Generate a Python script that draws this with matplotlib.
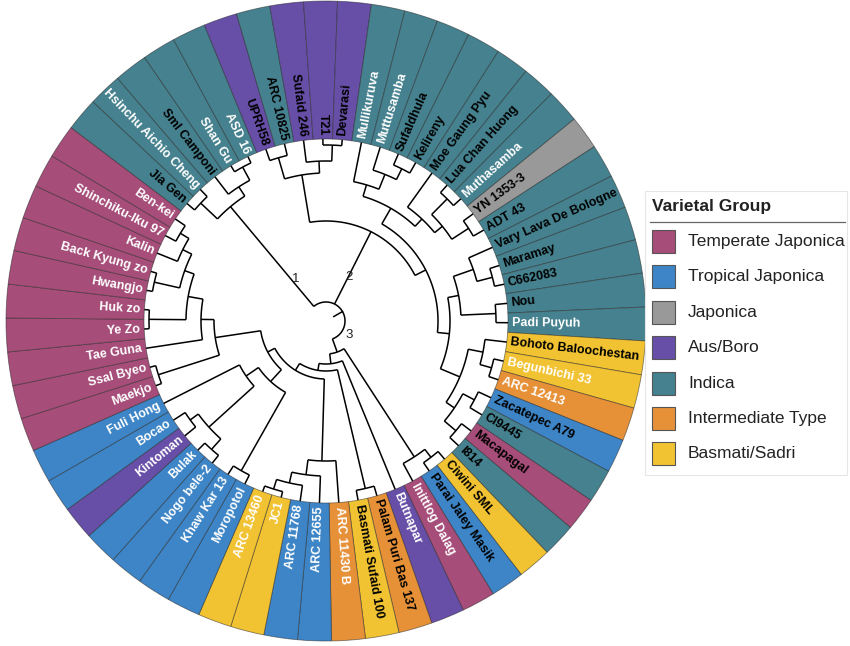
import numpy as np
import matplotlib.pyplot as plt
from matplotlib.patches import Wedge, Rectangle

# varieties, clockwise starting at Jia Gen
leaves = ['Jia Gen', 'Hsinchu Aichio Cheng', 'Sml Camponi', 'Shan Gu', 'ASD 16',
          'UPRH58', 'ARC 10825', 'Sufaid 246', 'T21', 'Devarasi',
          'Mullikuruva', 'Muttusamba', 'Sufaldhula', 'Kelireny', 'Moe Gaung Pyu',
          'Lua Chan Huong', 'Muthasamba', 'YN 1353-3', 'ADT 43', 'Vary Lava De Bologne',
          'Maramay', 'C662083', 'Nou', 'Padi Puyuh', 'Bohoto Baloochestan',
          'Begunbichi 33', 'ARC 12413', 'Zacatepec A79', 'CI9445', 'Macapagal',
          'I814', 'Ciwini SML', 'Parai Jaley Masik', 'Inittlog Dalag', 'Butnapar',
          'Palam Puri Bas 137', 'Basmati Sufaid 100', 'ARC 11430 B', 'ARC 12655', 'ARC 11768',
          'JC1', 'ARC 13460', 'Moropotol', 'Khaw Kar 13', 'Nogo bele-2',
          'Bulak', 'Kintoman', 'Bocao', 'Fuli Hong', 'Maekjo',
          'Ssal Byeo', 'Tae Guna', 'Ye Zo', 'Huk zo', 'Hwangjo',
          'Back Kyung zo', 'Kalin', 'Shinchiku-Iku 97', 'Ben-kei']

# 0 Temperate Japonica, 1 Tropical Japonica, 2 Japonica, 3 Aus/Boro,
# 4 Indica, 5 Intermediate Type, 6 Basmati/Sadri
leaf_group = [4, 4, 4, 4, 4,
              3, 4, 3, 3, 3,
              4, 4, 4, 4, 4,
              4, 4, 2, 4, 4,
              4, 4, 4, 4, 6,
              6, 5, 1, 4, 0,
              4, 6, 1, 0, 3,
              5, 6, 5, 1, 1,
              6, 6, 1, 1, 1,
              1, 3, 1, 1, 0,
              0, 0, 0, 0, 0,
              0, 0, 0, 0]

label_color = ['k', 'w', 'k', 'w', 'w',
               'k', 'k', 'k', 'k', 'k',
               'w', 'w', 'k', 'k', 'k',
               'k', 'w', 'k', 'k', 'k',
               'k', 'k', 'k', 'w', 'k',
               'w', 'w', 'k', 'k', 'k',
               'k', 'k', 'k', 'w', 'w',
               'k', 'k', 'w', 'w', 'w',
               'w', 'w', 'w', 'w', 'w',
               'w', 'w', 'w', 'w', 'w',
               'w', 'w', 'w', 'w', 'w',
               'w', 'w', 'w', 'w']

group_names = ['Temperate Japonica', 'Tropical Japonica', 'Japonica', 'Aus/Boro',
               'Indica', 'Intermediate Type', 'Basmati/Sadri']
group_colors = ['#a64d79', '#3d85c6', '#999999', '#674ea7',
                '#45818e', '#e69138', '#f1c232']

# tree: [node radius, child, child, ...]; ints are leaf positions
clade1 = [149, [172, 0, 1], [160, 2, [175, 3, 4]]]
aus = [148, [170, 5, 6], [160, 7, [176, 8, 9]]]
indica_top = [130, [142, 10, [158, 11, [170, 12, 13]]],
              [140, 14, [150, [172, 15, 16], [170, 17, 18]]]]
indica_low = [124, [135, [156, 19, [172, 20, 21]], [170, 22, 23]],
              [145, [160, 24, [172, 25, 26]], [155, [168, 27, 28], [170, 29, 30]]]]
clade2 = [100, aus, [112, indica_top, indica_low]]
arc_grp = [140, 37, [155, 38, [166, 39, [176, 40, 41]]]]
trop = [82, [172, 42, 43], [97, [158, [172, 44, 45], [168, 46, 47]], 48]]
temp = [112, [176, 49, 50],
        [125, 51, [140, [177, 52, 53], [150, [176, 54, 55], [160, 56, [170, 57, 58]]]]]]
clade3 = [33, [162, [172, 31, 32], 33],
          [43, 34, [50, [172, 35, 36], [58, arc_grp, [66, trop, temp]]]]]
tree = [19, clade1, clade2, clade3]

cx, cy = 326, 325
r_in, r_out = 182, 320
n = len(leaves)
step = 360.0 / n
start = 139.8
ang = [start - i * step for i in range(n)]

fig = plt.figure(figsize=(8.5, 6.46), dpi=100)
ax = fig.add_axes([0, 0, 1, 1])
ax.set_xlim(0, 850)
ax.set_ylim(0, 646)
ax.axis('off')


def pol(r, a):
    t = np.radians(a)
    return cx + r * np.cos(t), cy + r * np.sin(t)


# coloured ring
for i in range(n):
    w = Wedge((cx, cy), r_out, ang[i] - step / 2, ang[i] + step / 2, width=r_out - r_in,
              facecolor=group_colors[leaf_group[i]], edgecolor=(0.15, 0.15, 0.15, 0.55), lw=0.6)
    ax.add_patch(w)

# leaf labels
for i in range(n):
    a = ang[i] % 360
    x, y = pol(r_in + 4, ang[i])
    if a > 270 or a < 90:
        rot, ha = a, 'left'
    else:
        rot, ha = a - 180, 'right'
    ax.text(x, y, leaves[i], rotation=rot, rotation_mode='anchor', ha=ha, va='center',
            fontsize=9, fontweight='bold', family='Liberation Sans', color=label_color[i])

lw = 1.1


def draw(node):
    if isinstance(node, int):
        return ang[node], r_in
    r = node[0]
    kids = [draw(c) for c in node[1:]]
    a_list = [k[0] for k in kids]
    t = np.linspace(min(a_list), max(a_list), 100)
    xs, ys = pol(r, t)
    ax.plot(xs, ys, color='k', lw=lw, solid_capstyle='butt')
    for a, rc in kids:
        x0, y0 = pol(r, a)
        x1, y1 = pol(rc, a)
        ax.plot([x0, x1], [y0, y1], color='k', lw=lw, solid_capstyle='butt')
    return (a_list[0] + a_list[-1]) / 2, r


root_a, root_r = draw(tree)
x0, y0 = pol(9, root_a)
x1, y1 = pol(root_r, root_a)
ax.plot([x0, x1], [y0, y1], color='k', lw=lw)

# clade numbers
for lab, r, a in [('1', 52, 126), ('2', 50, 62), ('3', 27, -31)]:
    x, y = pol(r, a)
    ax.text(x, y, lab, fontsize=9.5, family='Liberation Sans', ha='center', va='center', color='#222222')

# legend
ax.add_patch(Rectangle((645, 171), 202, 284, facecolor='white', edgecolor='#e6e6e6', lw=0.8))
ax.text(652, 440, 'Varietal Group', fontsize=12.5, fontweight='bold', family='Liberation Sans',
        ha='left', va='center', color='#222222')
ax.plot([650, 845], [424, 424], color='#666666', lw=0.9)
for k, (name, col) in enumerate(zip(group_names, group_colors)):
    yc = 404.5 - k * 35.4
    ax.add_patch(Rectangle((652, yc - 11.5), 23, 23, facecolor=col, edgecolor='#555555', lw=0.8))
    ax.text(688, yc, name, fontsize=12.5, family='Liberation Sans', ha='left', va='center',
            color='#222222')

fig.savefig('out.png', dpi=100)
